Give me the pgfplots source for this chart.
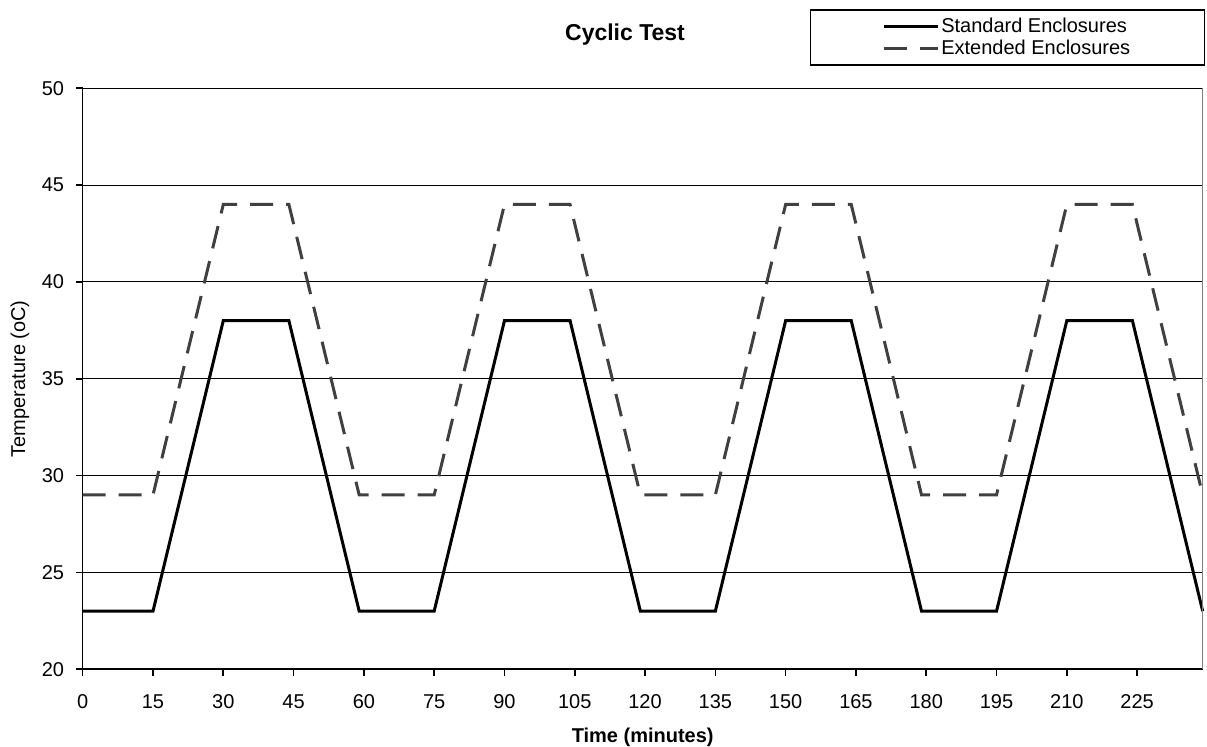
\documentclass[border=0pt]{standalone}
\usepackage{fontspec}
\setmainfont{Liberation Sans}
\usepackage{pgfplots}
\pgfplotsset{compat=1.18}
\usetikzlibrary{calc}
\definecolor{dashgray}{HTML}{404040}

\begin{document}
\begin{tikzpicture}
\begin{axis}[
  scale only axis, width=560pt, height=290.5pt,
  xmin=0, xmax=239, ymin=20, ymax=50,
  xtick={0,15,...,225}, ytick={20,25,...,50},
  axis x line*=bottom, axis y line*=left,
  axis line style={-, black, line width=0.8pt},
  tick align=outside, major tick length=3.3pt,
  tick style={black, line width=0.8pt},
  ymajorgrids, grid style={black, line width=0.5pt},
  /pgf/number format/assume math mode=true,
  tick label style={font=\fontsize{10}{12}\selectfont},
  xticklabel style={anchor=center, yshift=-13pt},
  yticklabel style={anchor=east, inner sep=0pt, xshift=-5.85pt},
  title={Cyclic Test},
  title style={at={(axis description cs:0.4842,1)}, anchor=center, yshift=21pt,
    font=\bfseries\fontsize{11.5}{13}\selectfont},
  xlabel={Time (minutes)},
  xlabel style={at={(axis description cs:0.5,0)}, anchor=center, yshift=-33.85pt,
    font=\bfseries\fontsize{10}{12}\selectfont},
  ylabel={Temperature (oC)},
  ylabel style={at={(axis description cs:0,0.5)}, anchor=center, yshift=31.35pt,
    font=\fontsize{10}{12}\selectfont},
  legend style={at={(1,1)}, anchor=north east, xshift=1.15pt, yshift=39.5pt,
    draw=black, line width=0.75pt, inner xsep=36pt, inner ysep=3pt,
    font=\fontsize{10}{12}\selectfont, nodes={inner sep=1pt}},
  legend cell align=left,
  legend image code/.code={\draw[#1] (0pt,0pt) -- (27pt,0pt);},
  clip=false,
]
% Standard enclosures
\addplot[black, line width=1.5pt] coordinates {
  (0,23) (15,23) (30,38) (44,38) (59,23)
  (75,23) (90,38) (104,38) (119,23)
  (135,23) (150,38) (164,38) (179,23)
  (195,23) (210,38) (224,38) (239,23)};
\addlegendentry{Standard Enclosures}
% Extended enclosures
\addplot[dashgray, line width=1.5pt, dash pattern=on 11.5pt off 6.5pt] coordinates {
  (0,29) (15,29) (30,44) (44,44) (59,29)
  (75,29) (90,44) (104,44) (119,29)
  (135,29) (150,44) (164,44) (179,29)
  (195,29) (210,44) (224,44) (239,29)};
\addlegendentry{Extended Enclosures}
\draw[gray, line width=0.5pt] (rel axis cs:1,0) -- (rel axis cs:1,1);
\end{axis}
\pgfresetboundingbox
\path ($(current axis.south west)+(-41.35pt,-38.85pt)$) rectangle ($(current axis.north east)+(2.15pt,44.15pt)$);
\end{tikzpicture}
\end{document}
